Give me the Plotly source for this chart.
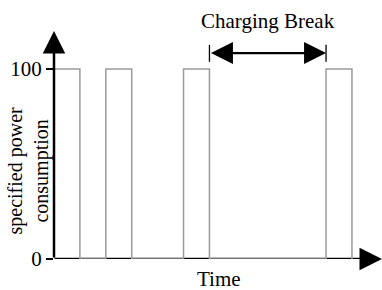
import plotly.graph_objects as go

# data
bar_starts = [0, 2, 5, 10.5]
bar_widths = [1, 1, 1, 1]
bar_levels = [100, 100, 100, 100]
break_start = 6
break_end = 10.5
y_ticks = [0, 100]
y_tick_labels = ["0", "100"]

X_MAX = 12.66
Y_MAX = 120

# step trace built from the data
xs, ys = [0], [0]
for s, w, lv in zip(bar_starts, bar_widths, bar_levels):
    xs += [s, s, s + w, s + w]
    ys += [0, lv, lv, 0]

FONT = "Liberation Serif"
FS = 21
fig = go.Figure()
fig.add_trace(go.Scatter(x=xs, y=ys, mode="lines",
                         line=dict(color="#9a9a9a", width=1.5),
                         hoverinfo="skip", showlegend=False, cliponaxis=False))

fig.update_layout(
    width=382, height=290,
    margin=dict(l=54, r=0, t=31, b=31, autoexpand=False),
    paper_bgcolor="white", plot_bgcolor="white",
    font=dict(family=FONT, size=FS, color="black"),
    xaxis=dict(range=[0, X_MAX], showgrid=False, zeroline=False, showline=False,
               showticklabels=False, ticks="", automargin=False),
    yaxis=dict(range=[0, Y_MAX], showgrid=False, zeroline=False, showline=False,
               tickvals=y_ticks, ticktext=y_tick_labels, ticks="outside",
               ticklen=7, tickwidth=2, tickcolor="black", automargin=False,
               tickfont=dict(family=FONT, size=FS, color="black")),
)

# x axis line (below traces) + arrow head
fig.add_shape(type="line", xref="x", yref="y", x0=-0.35, x1=X_MAX - 0.3, y0=0, y1=0,
              line=dict(color="black", width=2.5), layer="below")
fig.add_annotation(x=X_MAX, y=0, ax=X_MAX - 0.8, ay=0, xref="x", yref="y",
                   axref="x", ayref="y", text="", showarrow=True,
                   arrowhead=2, arrowsize=1.8, arrowwidth=2.5, arrowcolor="black")
# y axis arrow
fig.add_annotation(x=0, y=Y_MAX, ax=0, ay=0, xref="x", yref="y",
                   axref="x", ayref="y", text="", showarrow=True,
                   arrowhead=2, arrowsize=1.8, arrowwidth=2.5, arrowcolor="black")

# charging break arrow
arrow_y = 108.4
fig.add_annotation(x=break_end, y=arrow_y, ax=break_start, ay=arrow_y, xref="x", yref="y",
                   axref="x", ayref="y", text="", showarrow=True,
                   arrowhead=2, startarrowhead=2, arrowside="end+start",
                   arrowsize=2.0, startarrowsize=2.0, arrowwidth=2.2, arrowcolor="black")
for xv in (break_start, break_end):
    fig.add_shape(type="line", xref="x", yref="y", x0=xv, x1=xv, y0=103.8, y1=112.7,
                  line=dict(color="black", width=1.3))

fig.add_annotation(x=(break_start + break_end) / 2, y=1, xref="x", yref="paper",
                   yshift=-4, text="Charging Break", showarrow=False,
                   yanchor="bottom", font=dict(family=FONT, size=FS))
fig.add_annotation(x=-0.078, y=0.39, xref="paper", yref="paper",
                   text="specified power<br>consumption", showarrow=False, textangle=-90,
                   xanchor="center", yanchor="middle", font=dict(family=FONT, size=20))
fig.add_annotation(x=0.5, y=0, xref="paper", yref="paper", text="Time", showarrow=False,
                   yanchor="top", yshift=-6, xshift=1, font=dict(family=FONT, size=FS))

fig.write_html("out.html", config={"displayModeBar": False},
               post_script="document.body.style.margin='0';")
